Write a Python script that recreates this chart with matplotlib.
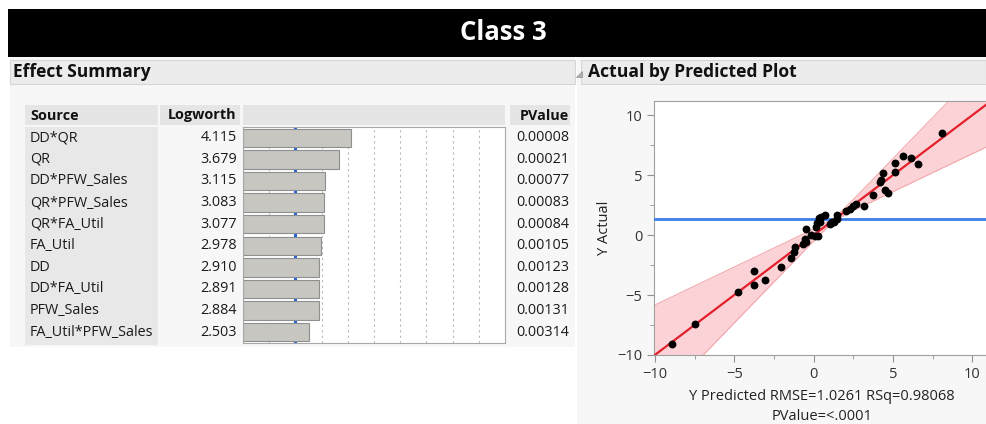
import matplotlib
matplotlib.use("Agg")
import matplotlib.pyplot as plt
from matplotlib.patches import Rectangle, Polygon
from matplotlib.ticker import MultipleLocator

plt.rcParams['font.family'] = ['Open Sans', 'DejaVu Sans']

# ---------------- data ----------------
title = "Class 3"
sources = ["DD*QR", "QR", "DD*PFW_Sales", "QR*PFW_Sales", "QR*FA_Util",
           "FA_Util", "DD", "DD*FA_Util", "PFW_Sales", "FA_Util*PFW_Sales"]
logworth = [4.115, 3.679, 3.115, 3.083, 3.077, 2.978, 2.910, 2.891, 2.884, 2.503]
pvalue_labels = ["0.00008", "0.00021", "0.00077", "0.00083", "0.00084",
                 "0.00105", "0.00123", "0.00128", "0.00131", "0.00314"]
logworth_ref = 2.0   # blue reference line (p = 0.01)

pred = [-8.94, -7.44, -4.76, -3.77, -3.73, -3.04, -2.03, -1.40, -1.26, -1.19,
        -0.67, -0.57, -0.45, -0.50, -0.15, 0.08, 0.27, 0.17, 0.22, 0.38,
        0.33, 0.48, 0.72, 1.01, 1.18, 1.28, 1.50, 1.45, 2.06, 2.26,
        2.50, 2.69, 3.18, 3.73, 4.15, 4.26, 4.36, 4.52, 4.67, 5.09,
        5.09, 5.62, 6.14, 6.56, 8.08]
actual = [-9.08, -7.44, -4.72, -2.97, -4.19, -3.78, -2.66, -1.88, -1.42, -1.00,
          -0.77, -0.30, -0.62, 0.47, 0.00, -0.10, -0.06, 0.69, 0.97, 1.11,
          1.39, 1.52, 1.65, 0.95, 1.08, 1.05, 1.33, 1.67, 2.00, 2.15,
          2.45, 2.58, 2.45, 3.36, 4.42, 4.55, 5.14, 3.75, 3.47, 5.22,
          6.03, 6.58, 6.39, 5.92, 8.50]
mean_actual = 1.33
fit_intercept = 0.0
fit_slope = 1.0
band_x  = [-10.1, -7.0, -5.0, -3.0, -2.0, -1.0, 0.0, 0.5, 1.3, 2.0, 3.0, 4.0, 6.0, 8.0, 10.9]
band_lo = [-14.3, -10.07, -7.33, -4.60, -3.23, -1.87, -0.50, 0.17, 1.15, 1.70, 2.36, 2.99, 4.25, 5.52, 7.35]
band_hi = [-5.9, -3.93, -2.67, -1.40, -0.77, -0.13, 0.50, 0.83, 1.45, 2.30, 3.64, 5.01, 7.75, 10.48, 14.45]
x_label = "Y Predicted RMSE=1.0261 RSq=0.98068"
p_label = "PValue=<.0001"
y_label = "Y Actual"

# ---------------- layout ----------------
W, H = 986, 424
fig = plt.figure(figsize=(W / 100, H / 100), dpi=100)
fig.patch.set_facecolor('white')


def fa(x0, y0, x1, y1):
    return [x0 / W, 1 - y1 / H, (x1 - x0) / W, (y1 - y0) / H]


bg = fig.add_axes([0, 0, 1, 1])
bg.set_xlim(0, W)
bg.set_ylim(H, 0)
bg.axis('off')


def rect(x0, y0, x1, y1, fc, ec='none', lw=0.8):
    bg.add_patch(Rectangle((x0, y0), x1 - x0, y1 - y0, facecolor=fc,
                           edgecolor=ec, linewidth=lw))


rect(8, 9, 986, 57, 'black')
bg.text(503, 33, title, color='white', fontsize=18.5, fontweight='bold',
        ha='center', va='center')

# panels
rect(10, 57, 575, 347, '#f7f7f7')
rect(577, 57, 986, 424, '#f7f7f7')
rect(10, 60, 575, 84, '#ececec', '#d6d6d6')
rect(581, 60, 986, 84, '#ececec', '#d6d6d6')
bg.text(13, 72, 'Effect Summary', fontweight='bold', fontsize=12.5,
        va='center', color='#111111')
bg.text(588, 72, 'Actual by Predicted Plot', fontweight='bold', fontsize=12.6,
        va='center', color='#111111')
bg.add_patch(Polygon([[575.5, 77], [582, 77], [582, 70.5]], closed=True,
                     facecolor='#b0b0b0', edgecolor='#909090', lw=0.5))

# table headers
hdr = '#e5e5e5'
rect(25, 105, 158, 125, hdr)
rect(160, 105, 240, 125, hdr)
rect(243, 105, 505, 125, hdr)
rect(510, 105, 570, 125, hdr)
rect(25, 127, 158, 345, '#e8e8e8')
fs = 10.4
bg.text(30, 115.5, 'Source', fontweight='bold', fontsize=fs, va='center', color='#111111')
bg.text(236, 115.5, 'Logworth', fontweight='bold', fontsize=fs, va='center', ha='right', color='#111111')
bg.text(569, 115.5, 'PValue', fontweight='bold', fontsize=fs, va='center', ha='right', color='#111111')

row_top, row_h = 127, 21.6
for i, (s, lw_, pv) in enumerate(zip(sources, logworth, pvalue_labels)):
    yc = row_top + row_h * (i + 0.5)
    bg.text(30, yc, s, fontsize=fs, va='center', color='#1a1a1a')
    bg.text(237, yc, f"{lw_:.3f}", fontsize=fs, va='center', ha='right', color='#1a1a1a')
    bg.text(569, yc, pv, fontsize=fs, va='center', ha='right', color='#1a1a1a')

# ---------------- bar chart ----------------
axb = fig.add_axes(fa(243, 127, 505, 343))
axb.set_facecolor('white')
n = len(sources)
axb.set_xlim(0, 10)
axb.set_ylim(n, 0)
for g in range(1, 10):
    axb.axvline(g, color='#b8b8b8', lw=0.8, ls=(0, (2, 3)), zorder=1)
axb.axvline(logworth_ref, color='#1f63de', lw=2.2, zorder=1)
axb.barh([i + 0.5 for i in range(n)], logworth, height=0.86, color='#c8c6c1',
         edgecolor='#8f8f8f', linewidth=0.8, zorder=2)
axb.set_xticks([])
axb.set_yticks([])
for sp in axb.spines.values():
    sp.set_color('#a8a8a8')
    sp.set_linewidth(0.8)

# ---------------- scatter ----------------
ax = fig.add_axes(fa(654, 101, 986, 355))
ax.set_facecolor('white')
ax.set_xlim(-10.05, 10.85)
ax.set_ylim(-10, 11.17)
ax.fill_between(band_x, band_lo, band_hi, color='#fbd3d6', lw=0, zorder=1)
ax.plot(band_x, band_lo, color='#f3a8ae', lw=0.8, zorder=2)
ax.plot(band_x, band_hi, color='#f3a8ae', lw=0.8, zorder=2)
ax.axhline(mean_actual, color='#3d7fe6', lw=2.0, zorder=3)
ax.axline((0, fit_intercept), slope=fit_slope, color='#e4202c', lw=1.6, zorder=4)
ax.scatter(pred, actual, s=32, color='black', zorder=5, linewidths=0)

ax.xaxis.set_major_locator(MultipleLocator(5))
ax.xaxis.set_minor_locator(MultipleLocator(2.5))
ax.yaxis.set_major_locator(MultipleLocator(5))
ax.yaxis.set_minor_locator(MultipleLocator(2.5))
ax.tick_params(which='both', direction='out', color='#909090', labelcolor='#333333',
               labelsize=10.5)
ax.tick_params(which='major', length=5)
ax.tick_params(which='minor', length=3)
for sp in ax.spines.values():
    sp.set_color('#a0a0a0')
    sp.set_linewidth(0.8)
ax.spines['right'].set_visible(False)

bg.text(604, 228, y_label, rotation=90, fontsize=10.5, ha='center', va='center',
        color='#222222')
bg.text(822, 396, x_label, fontsize=10.5, ha='center', va='center', color='#222222')
bg.text(822, 416, p_label, fontsize=10.5, ha='center', va='center', color='#222222')

fig.savefig('out.png', dpi=100, facecolor='white')
